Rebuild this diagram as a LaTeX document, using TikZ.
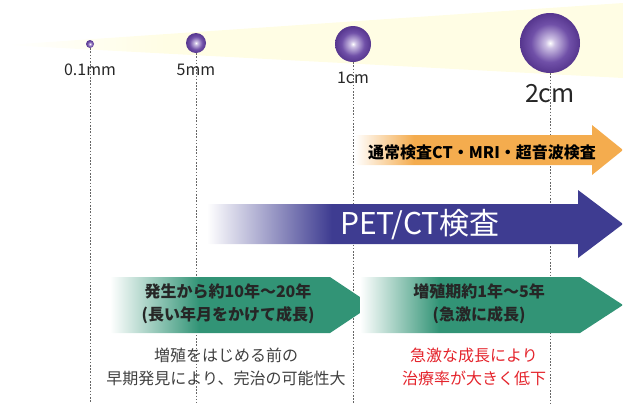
\documentclass[tikz,border=0pt]{standalone}
\usepackage{fontspec}
\setmainfont{Noto Sans CJK JP}
\usetikzlibrary{positioning}

\definecolor{sphLight}{RGB}{205,192,228}
\definecolor{sphMid}{RGB}{112,80,168}
\definecolor{sphDark}{RGB}{86,54,142}
\definecolor{coneYellow}{RGB}{255,253,228}
\definecolor{arrOrange}{RGB}{244,172,78}
\definecolor{arrBlue}{RGB}{62,60,145}
\definecolor{arrGreen}{RGB}{50,148,118}
\definecolor{noteRed}{RGB}{228,36,44}

\pgfdeclareradialshading{sphere}{\pgfpointorigin}{color(0bp)=(white); color(4bp)=(sphLight); color(16bp)=(sphMid); color(25bp)=(sphDark); color(50bp)=(sphDark)}
\pgfdeclarehorizontalshading{conefade}{100bp}{color(0bp)=(white); color(25bp)=(white); color(38bp)=(coneYellow); color(100bp)=(coneYellow)}
\pgfdeclarehorizontalshading{orangefade}{100bp}{color(0bp)=(white); color(25bp)=(white); color(36bp)=(arrOrange); color(100bp)=(arrOrange)}
\pgfdeclarehorizontalshading{bluefade}{100bp}{color(0bp)=(white); color(25bp)=(white); color(40bp)=(arrBlue); color(100bp)=(arrBlue)}
\pgfdeclarehorizontalshading{greenfadeA}{100bp}{color(0bp)=(white); color(25bp)=(white); color(42bp)=(arrGreen); color(100bp)=(arrGreen)}
\pgfdeclarehorizontalshading{greenfadeB}{100bp}{color(0bp)=(white); color(25bp)=(white); color(40bp)=(arrGreen); color(100bp)=(arrGreen)}

\begin{document}
\begin{tikzpicture}
  [x=1pt,y=-1pt,every node/.style={inner sep=0pt},
   ball/.style={circle,shading=sphere},
   guide/.style={draw=black!60,line width=.7pt,dash pattern=on 1.6pt off 1.6pt},
   size/.style={font=\fontsize{16}{16}\selectfont,text=black!85},
   band/.style={font=\bfseries\fontsize{16}{23}\selectfont,align=center,text=black!85},
   note/.style={font=\fontsize{16}{23}\selectfont,align=center}]
  \useasboundingbox (0,0) rectangle (623,405);

  % growth cone
  \shade[shading=conefade] (5,45) -- (623,3) -- (623,78) -- cycle;

  % tumour sizes
  \node[ball,minimum size=8pt] (s01) at (90,44) {};
  \node[ball,minimum size=20pt] (s5) at (196,43) {};
  \node[ball,minimum size=36pt] (s10) at (353,44) {};
  \node[ball,minimum size=60pt] (s20) at (550,43) {};

  \coordinate (e01) at (90,402);
  \coordinate (e5) at (196,403);
  \coordinate (e10) at (353,403);
  \coordinate (e20) at (550,403);
  \draw[guide] (s01) -- (e01);
  \draw[guide] (s5) -- (e5);
  \draw[guide] (s10) -- (e10);
  \draw[guide] (s20) -- (e20);

  \node[size] (l01) at (90,70) {0.1mm};
  \node[size] (l5) at (196,70) {5mm};
  \node[size] (l10) at (353,78) {1cm};
  \node[size,font=\fontsize{25}{25}\selectfont] (l20) at (550,94) {2cm};

  % examinations
  \shade[shading=orangefade] (355,135) -- (592,135) -- (592,125) -- (623,150)
    -- (592,175) -- (592,165) -- (355,165) -- cycle;
  \node[font=\bfseries\fontsize{16}{16}\selectfont] (exam) at (482,152) {通常検査CT・MRI・超音波検査};

  \shade[shading=bluefade] (207,204) -- (578,204) -- (578,190) -- (623,224)
    -- (578,258) -- (578,244) -- (207,244) -- cycle;
  \node[font=\fontsize{30}{30}\selectfont,text=white] (pet) at (420,225) {PET/CT検査};

  % growth periods
  \shade[shading=greenfadeA] (110,277) -- (330,277) -- (372,305) -- (330,333)
    -- (110,333) -- cycle;
  \node[band] (slow) at (228,304) {発生から約10年〜20年\\(長い年月をかけて成長)};
  \shade[shading=greenfadeB] (360,277) -- (580,277) -- (623,305) -- (580,333)
    -- (360,333) -- cycle;
  \node[band] (fast) at (479,304) {増殖期約1年〜5年\\(急激に成長)};

  \node[note,text=black!75] (early) at (226,367) {増殖をはじめる前の\\早期発見により、完治の可能性大};
  \node[note,text=noteRed] (late) at (474,367) {急激な成長により\\治療率が大きく低下};
\end{tikzpicture}
\end{document}
